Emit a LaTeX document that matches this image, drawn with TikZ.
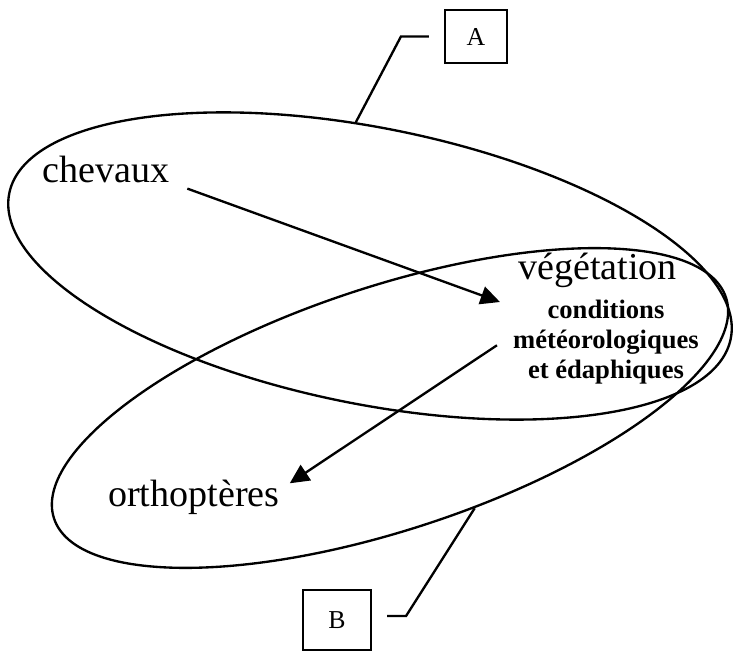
\documentclass[tikz,border=0pt]{standalone}
\usepackage{fontspec}
\setmainfont{Liberation Serif}
\usepackage{tikz}
\usetikzlibrary{positioning,calc}
\usetikzlibrary{arrows.meta,shapes.geometric}
\tikzset{
	zone/.style={ellipse,draw=black,line width=2pt,inner sep=0pt},
	lbl/.style={inner sep=0pt,anchor=base west,font=\fontsize{32.5}{38}\selectfont},
	factor/.style={inner sep=0pt,align=center,font=\fontsize{22.7}{25.6}\selectfont\bfseries},
	tag/.style={draw=black,line width=1.8pt,inner sep=0pt,font=\fontsize{22}{26}\selectfont},
	link/.style={line width=2pt,-{Triangle[length=0.58cm,width=0.55cm]}},
	lead/.style={line width=2pt},
}

\begin{document}
\begin{tikzpicture}
					\useasboundingbox (0,0) rectangle (22.02,19.56);
					% the two ellipses
					\node[zone,minimum width=22.08cm,minimum height=8.28cm,rotate=-11.4] (ellA) at (11.10,11.58) {};
					\node[zone,minimum width=21.22cm,minimum height=7.30cm,rotate=18.2] (ellB) at (11.70,7.32) {};
					% labels
					\node[lbl] (chevaux) at (1.26,14.07) {chevaux};
					\node[lbl] (ortho) at (3.24,4.38) {orthoptères};
					\node[lbl] (veg) at (15.54,11.16) {végétation};
					\node[factor,anchor=north] (cond) at (18.18,10.56) {conditions\\météorologiques\\et édaphiques};
					% boxes A and B
					\node[tag,minimum width=1.86cm,minimum height=1.59cm] (boxA) at (14.28,18.465) {A};
					\node[tag,minimum width=2.04cm,minimum height=1.80cm] (boxB) at (10.11,0.96) {B};
					\draw[lead] ([xshift=-0.45cm]boxA.west) -- ++(-0.84,0) -- (ellA.107);
					\draw[lead] ([xshift=0.45cm,yshift=0.12cm]boxB.east) -- ++(0.57,0) -- (ellB.-68);
					% arrows
					\draw[link] ([shift={(0.54,-0.15)}]chevaux.south east) -- ([shift={(-0.39,-0.06)}]cond.north west);
					\draw[link] ([shift={(-0.48,-0.09)}]cond.west) -- ([shift={(0.30,-0.12)}]ortho.north east);
				\end{tikzpicture}
\end{document}
